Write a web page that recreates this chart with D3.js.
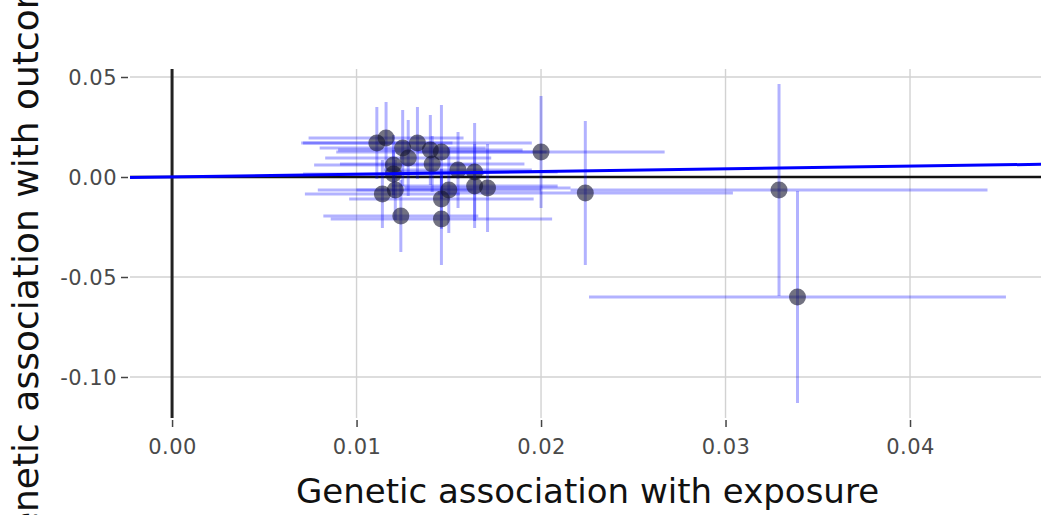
<!DOCTYPE html>
<html>
<head>
<meta charset="utf-8">
<script src="https://cdn.jsdelivr.net/npm/d3@7"></script>
<style>
  body { margin: 0; background: #fff; }
  text { font-family: 'DejaVu Sans', Verdana, sans-serif; }
</style>
</head>
<body>
<div id="scatter"></div>
<script>
var width = 1041;
var height = 515;

// genetic association with exposure (x) and with outcome (y), one per variant
var exposureBeta = [0.0111, 0.0116, 0.0125, 0.0128, 0.0133, 0.0120, 0.0120, 0.0141, 0.0140, 0.0146,
    0.0155, 0.0164, 0.0200, 0.0224, 0.0329, 0.0339, 0.0114, 0.0121, 0.0124, 0.0146,
    0.0150, 0.0146, 0.0164, 0.0171];
var outcomeBeta = [0.0170, 0.0195, 0.0145, 0.0095, 0.0170, 0.0060, 0.0015, 0.0065, 0.0135, 0.0125,
    0.0035, 0.0025, 0.0125, -0.0080, -0.0065, -0.0600, -0.0085, -0.0065, -0.0195, -0.0110,
    -0.0065, -0.0210, -0.0045, -0.0055];
// half widths of the error bars
var exposureErr = [0.0041, 0.0042, 0.0045, 0.0045, 0.0062, 0.0043, 0.0049, 0.0050, 0.0050, 0.0057,
    0.0040, 0.0045, 0.0067, 0.0080, 0.0113, 0.0113, 0.0042, 0.0042, 0.0042, 0.0050,
    0.0050, 0.0060, 0.0045, 0.0045];
var outcomeErr = [0.0180, 0.0180, 0.0190, 0.0190, 0.0180, 0.0150, 0.0120, 0.0140, 0.0175, 0.0235,
    0.0190, 0.0245, 0.0280, 0.0360, 0.0530, 0.0530, 0.0170, 0.0150, 0.0180, 0.0150,
    0.0215, 0.0230, 0.0210, 0.0220];

var xTicks = [0, 0.01, 0.02, 0.03, 0.04];
var yTicks = [0.05, 0, -0.05, -0.10];
var fitSlope = 0.135;

var plot = { left: 130, right: 1041, top: 69, bottom: 418 };

var data = exposureBeta.map((d, i) => ({
    x: d, y: outcomeBeta[i], ex: exposureErr[i], ey: outcomeErr[i]
}));

var svg = d3.select('#scatter').append('svg')
    .attr('width', width)
    .attr('height', height);

var xScale = d3.scaleLinear()
    .domain([-0.00228, 0.0471])
    .range([plot.left, plot.right]);

var yScale = d3.scaleLinear()
    .domain([-0.1205, 0.054])
    .range([plot.bottom, plot.top]);

var fmt = d => d3.format('.2f')(d).replace('\u2212', '-');

svg.append('clipPath')
    .attr('id', 'clip')
    .append('rect')
    .attr('x', plot.left)
    .attr('y', plot.top)
    .attr('width', plot.right - plot.left)
    .attr('height', plot.bottom - plot.top);

// grid
svg.append('g')
    .selectAll('line')
    .data(xTicks.filter(d => d !== 0))
    .enter()
    .append('line')
    .attr('x1', d => xScale(d))
    .attr('x2', d => xScale(d))
    .attr('y1', plot.top)
    .attr('y2', plot.bottom)
    .attr('stroke', '#d2d2d2')
    .attr('stroke-width', 1.4);

svg.append('g')
    .selectAll('line')
    .data(yTicks.filter(d => d !== 0))
    .enter()
    .append('line')
    .attr('x1', plot.left)
    .attr('x2', plot.right)
    .attr('y1', d => yScale(d))
    .attr('y2', d => yScale(d))
    .attr('stroke', '#d2d2d2')
    .attr('stroke-width', 1.4);

// axes (tick marks + labels only)
var xAxis_g = svg.append('g')
    .attr('transform', `translate(0, ${plot.bottom + 2})`)
    .call(d3.axisBottom(xScale).tickValues(xTicks).tickFormat(fmt).tickSize(7).tickPadding(12));

var yAxis_g = svg.append('g')
    .attr('transform', `translate(${plot.left - 2}, 0)`)
    .call(d3.axisLeft(yScale).tickValues(yTicks).tickFormat(fmt).tickSize(7).tickPadding(4));

[xAxis_g, yAxis_g].forEach(g => {
    g.select('.domain').remove();
    g.selectAll('line').attr('stroke', '#444').attr('stroke-width', 1.5);
    g.selectAll('text')
        .attr('fill', '#4a4a4a')
        .style('font-size', '21px')
        .style('letter-spacing', '0.5px')
        .style('font-family', "'DejaVu Sans', Verdana, sans-serif");
});

yAxis_g.selectAll('text').attr('dy', '0.36em');

// zero lines
svg.append('line')
    .attr('x1', plot.left)
    .attr('x2', plot.right)
    .attr('y1', yScale(0))
    .attr('y2', yScale(0))
    .attr('stroke', '#111')
    .attr('stroke-width', 2.5);

svg.append('line')
    .attr('x1', xScale(0))
    .attr('x2', xScale(0))
    .attr('y1', plot.top)
    .attr('y2', plot.bottom)
    .attr('stroke', '#222')
    .attr('stroke-width', 3);

var marks = svg.append('g').attr('clip-path', 'url(#clip)');

// error bars
marks.append('g')
    .selectAll('line')
    .data(data)
    .enter()
    .append('line')
    .attr('x1', d => xScale(d.x - d.ex))
    .attr('x2', d => xScale(d.x + d.ex))
    .attr('y1', d => yScale(d.y))
    .attr('y2', d => yScale(d.y))
    .attr('stroke', 'rgba(0,0,255,0.3)')
    .attr('stroke-width', 3);

marks.append('g')
    .selectAll('line')
    .data(data)
    .enter()
    .append('line')
    .attr('x1', d => xScale(d.x))
    .attr('x2', d => xScale(d.x))
    .attr('y1', d => yScale(d.y - d.ey))
    .attr('y2', d => yScale(d.y + d.ey))
    .attr('stroke', 'rgba(0,0,255,0.3)')
    .attr('stroke-width', 3);

marks.append('g')
    .selectAll('circle')
    .data(data)
    .enter()
    .append('circle')
    .attr('cx', d => xScale(d.x))
    .attr('cy', d => yScale(d.y))
    .attr('r', 8.5)
    .attr('fill', 'rgb(20,20,45)')
    .attr('fill-opacity', 0.6);

// fitted line
var xd = xScale.domain();
marks.append('line')
    .attr('x1', xScale(xd[0]))
    .attr('x2', xScale(xd[1]))
    .attr('y1', yScale(fitSlope * xd[0]))
    .attr('y2', yScale(fitSlope * xd[1]))
    .attr('stroke', '#0000ff')
    .attr('stroke-width', 3);

// titles
svg.append('text')
    .attr('x', (plot.left + plot.right) / 2 + 2)
    .attr('y', 503)
    .attr('text-anchor', 'middle')
    .attr('fill', '#111')
    .style('font-size', '34px')
    .text('Genetic association with exposure');

// the plot is taller than the window lets the title be, so it runs off both edges as in the original
svg.append('text')
    .attr('transform', `translate(38, 257) rotate(-90)`)
    .attr('text-anchor', 'middle')
    .attr('fill', '#111')
    .style('font-size', '36px')
    .text('Genetic association with outcome');
</script>
</body>
</html>
